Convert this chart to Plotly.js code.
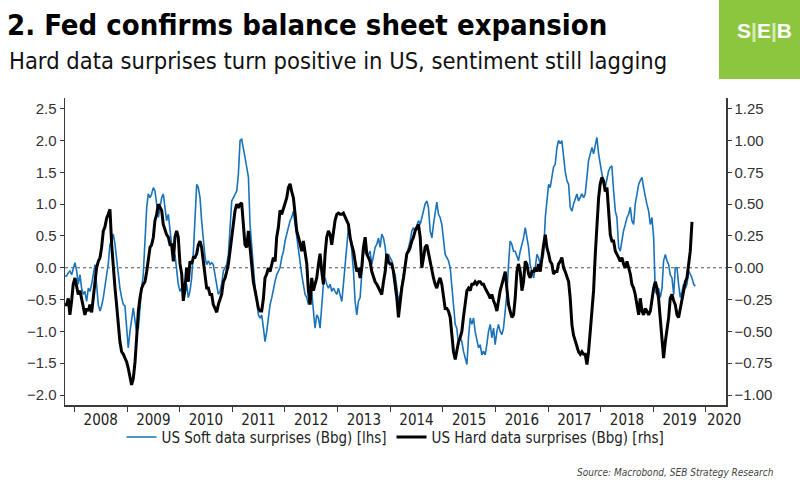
<!DOCTYPE html>
<html>
<head>
<meta charset="utf-8">
<script src="https://cdn.plot.ly/plotly-3.0.1.min.js"></script>
<style>html,body{margin:0;padding:0;background:#fff;}#chart{width:800px;height:485px;}</style>
</head>
<body>
<div id="chart"></div>
<script>
// ---- DATA ----
// Observations are spaced evenly (about every 11.6 days) starting from the first date.
const firstDate = '2007-10-28';
const stepDays = 11.573;

// US Soft data surprises (Bbg) [lhs]
const softSurprise = [
  -0.13,-0.13,-0.08,-0.05,-0.11,-0.03,0.08,-0.05,-0.26,-0.11,
  -0.32,-0.42,-0.37,-0.53,-0.32,-0.37,-0.26,-0.11,0.05,-0.26,
  -0.58,-0.68,-0.60,-0.47,-0.26,-0.11,0.05,0.37,0.42,0.53,
  0.37,0.11,-0.05,-0.32,-0.47,-0.58,-0.60,-1.00,-1.26,-1.00,
  -0.79,-0.63,-0.84,-1.00,-0.95,-0.58,-0.32,-0.11,0.42,0.95,
  1.16,1.10,1.16,1.26,1.21,0.95,0.79,0.95,1.10,1.16,
  0.89,0.74,0.84,0.58,0.37,0.11,0.21,-0.05,-0.26,-0.37,
  -0.32,-0.32,-0.42,-0.26,-0.47,-0.37,-0.16,0.26,
  0.84,1.31,1.26,1.10,0.74,0.37,0.16,0.05,0.11,0.05,
  0.08,0.05,-0.11,-0.26,-0.42,-0.37,-0.26,-0.05,0.00,0.05,
  0.21,0.58,1.05,1.10,1.16,1.21,1.47,2.00,2.02,1.89,
  1.74,1.58,1.42,0.68,0.37,0.05,-0.32,-0.47,-0.74,-0.79,
  -0.74,-0.95,-1.16,-1.00,-0.79,-0.58,-0.47,-0.32,-0.21,-0.11,
  -0.05,0.00,0.16,0.26,0.42,0.53,0.63,0.74,0.79,0.89,
  0.68,0.47,0.26,0.05,-0.11,-0.26,-0.42,-0.47,-0.58,-0.47,
  -0.37,-0.68,-0.95,-0.74,-0.79,-0.95,-0.58,-0.26,
  -0.16,-0.26,-0.32,-0.26,-0.37,-0.32,-0.37,-0.42,-0.32,-0.42,
  -0.53,-0.26,0.05,0.42,0.63,0.58,0.32,-0.05,-0.53,-0.74,
  -0.53,-0.47,-0.11,0.21,0.32,0.21,0.21,0.26,0.05,0.21,
  0.32,0.37,0.47,0.32,0.53,0.47,0.32,0.05,0.21,0.16,
  0.11,-0.05,-0.11,-0.32,-0.53,-0.42,-0.26,-0.11,0.05,0.21,
  0.32,0.42,0.58,0.63,0.58,0.68,0.74,0.68,0.79,0.89,
  1.00,1.05,0.95,0.58,0.47,0.68,0.84,1.03,0.84,0.79,
  0.68,0.37,0.21,0.16,0.11,0.00,-0.26,-0.63,
  -0.89,-0.95,-1.21,-1.10,-1.16,-1.31,-1.42,-1.52,-1.10,-0.79,
  -0.89,-0.79,-1.00,-1.16,-1.26,-1.21,-1.37,-1.31,-1.37,-1.21,
  -1.00,-0.89,-1.10,-0.95,-1.21,-1.00,-0.89,-1.00,-1.05,-0.95,
  -0.68,-0.42,0.05,0.42,0.37,0.26,0.26,0.16,0.11,0.26,
  0.37,0.47,0.63,0.47,0.32,0.05,-0.05,-0.16,0.00,0.21,
  0.16,0.05,0.11,0.21,0.79,1.10,1.31,1.26,1.42,1.58,
  1.63,1.89,2.00,1.95,2.00,1.74,1.52,1.37,1.31,0.95,
  0.89,1.00,1.10,1.16,1.05,1.10,1.16,1.10,
  1.16,1.42,1.68,1.79,1.89,1.79,1.95,2.05,1.79,1.63,
  1.47,1.31,1.26,1.37,1.52,1.58,1.60,1.21,0.89,0.79,
  0.32,0.26,0.47,0.58,0.68,0.79,0.84,0.95,0.74,0.68,
  1.00,1.16,1.31,1.37,1.42,1.26,1.10,1.00,0.89,0.68,
  0.79,0.47,-0.37,-0.42,-0.32,-0.47,-0.32,0.11,0.21,0.11,
  0.05,-0.11,-0.16,-0.42,0.00,0.00,-0.26,-0.47,-0.37,-0.26,
  -0.32,-0.26,-0.05,-0.11,-0.16,-0.26,-0.29
];

// US Hard data surprises (Bbg) [rhs]
const hardSurprise = [
  -0.29,-0.29,-0.24,-0.37,-0.26,-0.13,-0.08,-0.16,-0.21,-0.18,
  -0.24,-0.29,-0.37,-0.32,-0.34,-0.29,-0.35,-0.24,-0.13,0.00,
  0.05,0.08,0.16,0.29,0.32,0.39,0.42,0.46,0.18,0.00,
  -0.16,-0.29,-0.45,-0.58,-0.66,-0.68,-0.71,-0.74,-0.79,-0.87,
  -0.92,-0.87,-0.74,-0.55,-0.34,-0.24,-0.16,-0.13,-0.11,-0.03,
  0.08,0.16,0.18,0.24,0.37,0.42,0.50,0.47,0.45,0.34,
  0.29,0.26,0.24,0.18,0.18,0.05,0.24,0.29,0.24,0.03,
  -0.05,-0.26,-0.16,0.00,-0.11,0.05,0.03,0.08,
  0.08,0.11,0.18,0.21,0.16,0.05,-0.05,-0.16,-0.16,-0.21,
  -0.21,-0.29,-0.32,-0.35,-0.29,-0.24,-0.21,-0.11,-0.08,-0.03,
  0.03,0.13,0.26,0.34,0.45,0.50,0.47,0.50,0.51,0.34,
  0.18,0.16,0.29,0.16,0.03,-0.11,-0.18,-0.24,-0.32,-0.34,
  -0.34,-0.24,-0.08,-0.05,0.00,-0.03,0.03,0.08,0.05,0.24,
  0.32,0.45,0.42,0.47,0.50,0.55,0.63,0.66,0.60,0.55,
  0.42,0.29,0.24,0.18,0.13,0.21,0.11,0.03,-0.18,-0.29,
  -0.08,-0.18,-0.13,-0.08,0.03,0.11,-0.03,-0.13,
  0.11,0.24,0.29,0.26,0.18,0.29,0.37,0.42,0.43,0.42,
  0.42,0.43,0.39,0.37,0.34,0.24,0.18,0.13,0.05,-0.03,
  0.00,-0.08,0.00,0.16,0.24,0.11,0.08,0.05,-0.03,-0.08,
  -0.11,-0.13,-0.16,-0.18,-0.21,-0.11,-0.03,0.11,0.05,0.03,
  0.03,-0.03,-0.13,-0.24,-0.39,-0.24,-0.16,-0.08,0.03,0.11,
  0.13,0.16,0.21,0.24,0.29,0.32,0.34,0.24,0.00,0.08,
  0.16,0.18,0.11,0.05,-0.03,-0.08,-0.13,-0.16,-0.11,-0.08,
  -0.13,-0.24,-0.32,-0.32,-0.34,-0.39,-0.50,-0.66,
  -0.72,-0.66,-0.58,-0.55,-0.50,-0.39,-0.29,-0.18,-0.16,-0.18,
  -0.13,-0.13,-0.11,-0.13,-0.11,-0.11,-0.13,-0.13,-0.16,-0.18,
  -0.21,-0.24,-0.21,-0.26,-0.29,-0.34,-0.26,-0.18,-0.13,-0.08,
  -0.03,-0.16,-0.29,-0.34,-0.39,-0.37,-0.24,-0.03,0.03,-0.03,
  -0.18,-0.11,0.05,0.03,-0.05,-0.08,-0.03,-0.03,0.00,-0.03,
  0.03,-0.03,0.08,0.18,0.26,0.16,0.11,0.05,0.03,-0.05,
  -0.03,-0.03,0.03,0.05,0.08,0.00,-0.03,-0.08,-0.11,-0.24,
  -0.45,-0.53,-0.58,-0.63,-0.66,-0.68,-0.66,-0.68,
  -0.68,-0.76,-0.66,-0.50,-0.32,-0.18,0.11,0.34,0.55,0.66,
  0.71,0.68,0.60,0.63,0.47,0.26,0.21,0.21,0.13,0.11,
  0.08,0.05,0.08,0.03,0.00,0.05,0.00,-0.05,-0.13,-0.16,
  -0.21,-0.29,-0.37,-0.24,-0.34,-0.37,-0.32,-0.34,-0.37,-0.34,
  -0.24,-0.16,-0.11,-0.16,-0.24,-0.39,-0.58,-0.71,-0.58,-0.50,
  -0.39,-0.24,-0.21,-0.26,-0.29,-0.37,-0.39,-0.32,-0.24,-0.16,
  -0.11,-0.08,0.05,0.13,0.36
];

const yearLabels = ['2008','2009','2010','2011','2012','2013','2014','2015','2016','2017','2018','2019','2020'];
const seriesNames = ['US Soft data surprises (Bbg) [lhs]', 'US Hard data surprises (Bbg) [rhs]'];

// ---- build dates for the evenly spaced observations ----
function obsDates(n) {
  const t0 = Date.parse(firstDate + 'T00:00:00Z');
  const out = [];
  for (let i = 0; i < n; i++) {
    out.push(new Date(t0 + i * stepDays * 86400000).toISOString().slice(0, 10));
  }
  return out;
}

const NARROW = "'DejaVu Sans Condensed', 'Liberation Sans Narrow', sans-serif";
const SANS = "'Liberation Sans', Arial, sans-serif";

const traces = [
  {
    x: obsDates(softSurprise.length), y: softSurprise, name: seriesNames[0],
    type: 'scatter', mode: 'lines', xaxis: 'x', yaxis: 'y',
    line: {color: '#1a72b8', width: 1.6}
  },
  {
    x: obsDates(hardSurprise.length), y: hardSurprise, name: seriesNames[1],
    type: 'scatter', mode: 'lines', xaxis: 'x', yaxis: 'y2',
    line: {color: '#000000', width: 3}
  }
];

// tick marks on 1 January, labels in the middle of each year
const yearStarts = yearLabels.map(y => y + '-01-01');
const labelPos = yearLabels.map(y => y === '2020' ? '2020-05-06' : y + '-07-02');

const axisCol = '#3a3a3a';
const layout = {
  width: 800, height: 485,
  margin: {l: 65, r: 74, t: 98, b: 80},
  paper_bgcolor: '#ffffff', plot_bgcolor: '#ffffff',
  showlegend: true,
  title: {
    text: '2. Fed confirms balance sheet expansion',
    font: {family: NARROW, size: 29, color: '#000', weight: 'bold'},
    xref: 'container', x: 7 / 800, xanchor: 'left',
    yref: 'container', y: 1 - 25 / 485, yanchor: 'middle'
  },
  xaxis: {
    type: 'date', range: [firstDate, '2020-05-19'],
    tickmode: 'array', tickvals: labelPos, ticktext: yearLabels,
    ticks: '', showgrid: false, zeroline: false,
    showline: true, linecolor: axisCol, linewidth: 1.5,
    tickfont: {family: NARROW, size: 15, color: '#222'},
    minor: {tickmode: 'array', tickvals: yearStarts, ticks: 'outside', ticklen: 5, tickcolor: axisCol, tickwidth: 1, showgrid: false},
    fixedrange: true
  },
  yaxis: {
    range: [-2.157, 2.668], tick0: 0, dtick: 0.5, tickformat: '.1f',
    ticks: 'outside', ticklen: 4, tickcolor: axisCol,
    showline: true, linecolor: axisCol, linewidth: 1.5,
    showgrid: false, zeroline: false,
    tickfont: {family: SANS, size: 15, color: '#333'},
    fixedrange: true
  },
  yaxis2: {
    overlaying: 'y', side: 'right', anchor: 'x',
    range: [-1.0785, 1.334], tick0: 0, dtick: 0.25, tickformat: '.2f',
    ticks: 'outside', ticklen: 4, tickcolor: axisCol,
    showline: true, linecolor: axisCol, linewidth: 1.5,
    showgrid: false, zeroline: false,
    tickfont: {family: SANS, size: 15, color: '#333'},
    fixedrange: true
  },
  legend: {
    orientation: 'h', x: 0.5, xanchor: 'center', y: -0.105, yanchor: 'middle',
    font: {family: NARROW, size: 15, color: '#222'},
    itemwidth: 30, tracegroupgap: 0, bgcolor: 'rgba(0,0,0,0)'
  },
  shapes: [
    {type: 'line', xref: 'paper', x0: 0, x1: 1, yref: 'y', y0: 0, y1: 0,
     line: {color: '#555', width: 1, dash: '3px,3px'}, layer: 'below'},
    {type: 'rect', xref: 'paper', yref: 'paper',
     x0: (719 - 65) / 661, x1: 1.13, y0: 1 + (98 - 79) / 307, y1: 1.33,
     fillcolor: '#8cc63f', line: {width: 0}}
  ],
  annotations: [
    {text: 'Hard data surprises turn positive in US, sentiment still lagging',
     xref: 'paper', yref: 'paper', x: (7 - 65) / 661, y: 1 + (98 - 61) / 307,
     xanchor: 'left', yanchor: 'middle', showarrow: false,
     font: {family: NARROW, size: 23.5, color: '#111'}},
    {text: 'S<span style="color:#d6ecb6">|</span>E<span style="color:#d6ecb6">|</span>B',
     xref: 'paper', yref: 'paper', x: (764.5 - 65) / 661, y: 1 + (98 - 31) / 307,
     xanchor: 'center', yanchor: 'middle', showarrow: false,
     font: {family: SANS, size: 21, color: '#ffffff', weight: 'bold'}},
    {text: 'Source: Macrobond, SEB Strategy Research',
     xref: 'paper', yref: 'paper', x: (776 - 65) / 661, y: -(472 - 405) / 307,
     xanchor: 'right', yanchor: 'middle', showarrow: false,
     font: {family: NARROW, size: 10, color: '#444', style: 'italic'}}
  ]
};

Plotly.newPlot('chart', traces, layout, {displayModeBar: false, staticPlot: true});
</script>
</body>
</html>
